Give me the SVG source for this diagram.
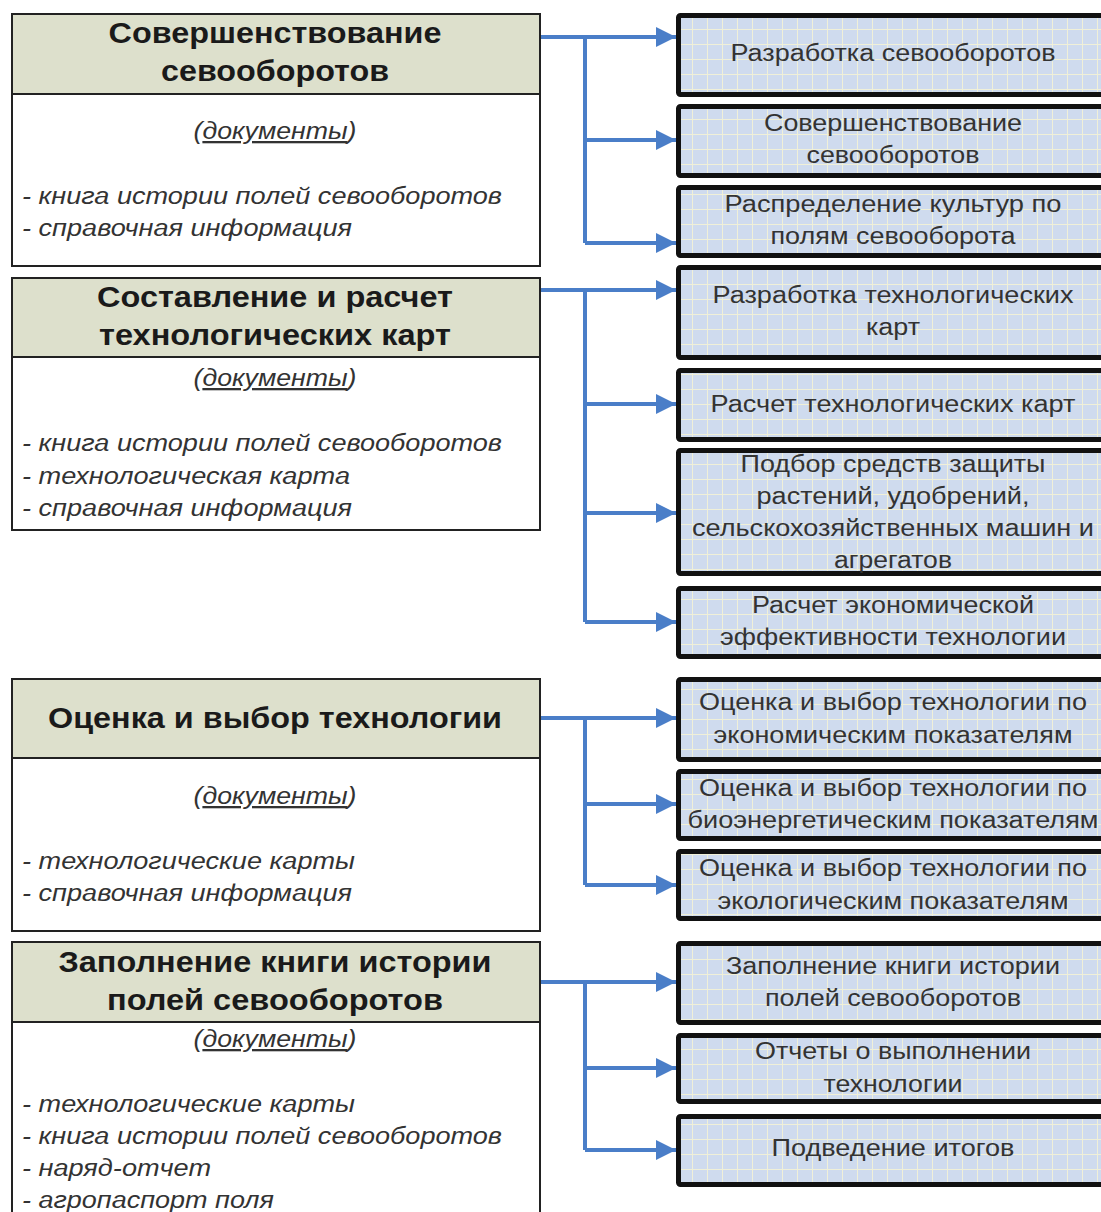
<svg xmlns="http://www.w3.org/2000/svg" width="1101" height="1212" viewBox="0 0 1101 1212">
<style>
.hd{fill:#dde0cc;stroke:#222;stroke-width:2}
.bd{fill:#fff;stroke:#222;stroke-width:2}
.ht{font-family:"Liberation Sans",Arial,sans-serif;font-weight:bold;font-size:29px;fill:#1a1a1a;text-anchor:middle}
.it{font-family:"Liberation Sans",Arial,sans-serif;font-style:italic;font-size:23px;fill:#333}
.dc{font-family:"Liberation Sans",Arial,sans-serif;font-style:italic;font-size:23px;fill:#333;text-anchor:middle}
.rb{fill:url(#grid);stroke:#111;stroke-width:5}
.rt{font-family:"Liberation Sans",Arial,sans-serif;font-size:23px;fill:#333;text-anchor:middle}
.cn{fill:none;stroke:#4a7ec8;stroke-width:4}
</style>
<defs>
<pattern id="grid" patternUnits="userSpaceOnUse" x="2" y="14" width="15" height="15">
<rect width="15" height="15" fill="#cfdbee"/>
<path d="M0 0H15M0 0V15" stroke="#f0f0d8" stroke-width="2" fill="none"/>
</pattern>
<marker id="ar" markerWidth="5" markerHeight="5" refX="5" refY="2.5" orient="auto" markerUnits="strokeWidth">
<path d="M0 0L5 2.5L0 5Z" fill="#4a7ec8"/>
</marker>
</defs>

<g id="connectors">
<path class="cn" d="M540 37H676" marker-end="url(#ar)"/>
<path class="cn" d="M585 37V243"/>
<path class="cn" d="M585 140H676" marker-end="url(#ar)"/>
<path class="cn" d="M585 243H676" marker-end="url(#ar)"/>
<path class="cn" d="M540 290H676" marker-end="url(#ar)"/>
<path class="cn" d="M585 290V622"/>
<path class="cn" d="M585 404H676" marker-end="url(#ar)"/>
<path class="cn" d="M585 513H676" marker-end="url(#ar)"/>
<path class="cn" d="M585 622H676" marker-end="url(#ar)"/>
<path class="cn" d="M540 718H676" marker-end="url(#ar)"/>
<path class="cn" d="M585 718V885"/>
<path class="cn" d="M585 804H676" marker-end="url(#ar)"/>
<path class="cn" d="M585 885H676" marker-end="url(#ar)"/>
<path class="cn" d="M540 982H676" marker-end="url(#ar)"/>
<path class="cn" d="M585 982V1150"/>
<path class="cn" d="M585 1068H676" marker-end="url(#ar)"/>
<path class="cn" d="M585 1150H676" marker-end="url(#ar)"/>
</g>

<g id="L1">
<rect class="bd" x="12" y="94" width="528" height="172"/>
<rect class="hd" x="12" y="14" width="528" height="80"/>
<text class="ht" x="275" y="43" textLength="333" lengthAdjust="spacingAndGlyphs">Совершенствование</text>
<text class="ht" x="275" y="81" textLength="228" lengthAdjust="spacingAndGlyphs">севооборотов</text>
<text class="dc" x="275" y="139" textLength="163" lengthAdjust="spacingAndGlyphs">(<tspan text-decoration="underline">документы</tspan>)</text>
<text class="it" x="22" y="204" textLength="480" lengthAdjust="spacingAndGlyphs">- книга истории полей севооборотов</text>
<text class="it" x="22" y="236" textLength="330" lengthAdjust="spacingAndGlyphs">- справочная информация</text>
</g>

<g id="L2">
<rect class="bd" x="12" y="357" width="528" height="173"/>
<rect class="hd" x="12" y="278" width="528" height="79"/>
<text class="ht" x="275" y="307" textLength="356" lengthAdjust="spacingAndGlyphs">Составление и расчет</text>
<text class="ht" x="275" y="345" textLength="352" lengthAdjust="spacingAndGlyphs">технологических карт</text>
<text class="dc" x="275" y="386" textLength="163" lengthAdjust="spacingAndGlyphs">(<tspan text-decoration="underline">документы</tspan>)</text>
<text class="it" x="22" y="451" textLength="480" lengthAdjust="spacingAndGlyphs">- книга истории полей севооборотов</text>
<text class="it" x="22" y="484" textLength="328" lengthAdjust="spacingAndGlyphs">- технологическая карта</text>
<text class="it" x="22" y="516" textLength="330" lengthAdjust="spacingAndGlyphs">- справочная информация</text>
</g>

<g id="L3">
<rect class="bd" x="12" y="758" width="528" height="173"/>
<rect class="hd" x="12" y="679" width="528" height="79"/>
<text class="ht" x="275" y="728" textLength="454" lengthAdjust="spacingAndGlyphs">Оценка и выбор технологии</text>
<text class="dc" x="275" y="804" textLength="163" lengthAdjust="spacingAndGlyphs">(<tspan text-decoration="underline">документы</tspan>)</text>
<text class="it" x="22" y="869" textLength="333" lengthAdjust="spacingAndGlyphs">- технологические карты</text>
<text class="it" x="22" y="901" textLength="330" lengthAdjust="spacingAndGlyphs">- справочная информация</text>
</g>

<g id="L4">
<rect class="bd" x="12" y="1022" width="528" height="200"/>
<rect class="hd" x="12" y="942" width="528" height="80"/>
<text class="ht" x="275" y="972" textLength="433" lengthAdjust="spacingAndGlyphs">Заполнение книги истории</text>
<text class="ht" x="275" y="1010" textLength="336" lengthAdjust="spacingAndGlyphs">полей севооборотов</text>
<text class="dc" x="275" y="1047" textLength="163" lengthAdjust="spacingAndGlyphs">(<tspan text-decoration="underline">документы</tspan>)</text>
<text class="it" x="22" y="1112" textLength="333" lengthAdjust="spacingAndGlyphs">- технологические карты</text>
<text class="it" x="22" y="1144" textLength="480" lengthAdjust="spacingAndGlyphs">- книга истории полей севооборотов</text>
<text class="it" x="22" y="1176" textLength="189" lengthAdjust="spacingAndGlyphs">- наряд-отчет</text>
<text class="it" x="22" y="1208" textLength="252" lengthAdjust="spacingAndGlyphs">- агропаспорт поля</text>
</g>

<g id="R1"><rect class="rb" x="678.5" y="15.5" width="430" height="79" rx="2"/>
<text class="rt" x="893" y="61" textLength="325" lengthAdjust="spacingAndGlyphs">Разработка севооборотов</text></g>
<g id="R2"><rect class="rb" x="678.5" y="106.5" width="430" height="69" rx="2"/>
<text class="rt" x="893" y="131" textLength="258" lengthAdjust="spacingAndGlyphs">Совершенствование</text>
<text class="rt" x="893" y="163" textLength="173" lengthAdjust="spacingAndGlyphs">севооборотов</text></g>
<g id="R3"><rect class="rb" x="678.5" y="187.5" width="430" height="68" rx="2"/>
<text class="rt" x="893" y="212" textLength="337" lengthAdjust="spacingAndGlyphs">Распределение культур по</text>
<text class="rt" x="893" y="244" textLength="245" lengthAdjust="spacingAndGlyphs">полям севооборота</text></g>
<g id="R4"><rect class="rb" x="678.5" y="267.5" width="430" height="90" rx="2"/>
<text class="rt" x="893" y="303" textLength="361" lengthAdjust="spacingAndGlyphs">Разработка технологических</text>
<text class="rt" x="893" y="335" textLength="54" lengthAdjust="spacingAndGlyphs">карт</text></g>
<g id="R5"><rect class="rb" x="678.5" y="370.5" width="430" height="69" rx="2"/>
<text class="rt" x="893" y="412" textLength="365" lengthAdjust="spacingAndGlyphs">Расчет технологических карт</text></g>
<g id="R6"><rect class="rb" x="678.5" y="450.5" width="430" height="123" rx="2"/>
<text class="rt" x="893" y="472" textLength="305" lengthAdjust="spacingAndGlyphs">Подбор средств защиты</text>
<text class="rt" x="893" y="504" textLength="273" lengthAdjust="spacingAndGlyphs">растений, удобрений,</text>
<text class="rt" x="893" y="536" textLength="402" lengthAdjust="spacingAndGlyphs">сельскохозяйственных машин и</text>
<text class="rt" x="893" y="568" textLength="118" lengthAdjust="spacingAndGlyphs">агрегатов</text></g>
<g id="R7"><rect class="rb" x="678.5" y="588.5" width="430" height="68" rx="2"/>
<text class="rt" x="893" y="613" textLength="282" lengthAdjust="spacingAndGlyphs">Расчет экономической</text>
<text class="rt" x="893" y="645" textLength="346" lengthAdjust="spacingAndGlyphs">эффективности технологии</text></g>
<g id="R8"><rect class="rb" x="678.5" y="679.5" width="430" height="80" rx="2"/>
<text class="rt" x="893" y="710" textLength="388" lengthAdjust="spacingAndGlyphs">Оценка и выбор технологии по</text>
<text class="rt" x="893" y="743" textLength="359" lengthAdjust="spacingAndGlyphs">экономическим показателям</text></g>
<g id="R9"><rect class="rb" x="678.5" y="771.5" width="430" height="67" rx="2"/>
<text class="rt" x="893" y="796" textLength="388" lengthAdjust="spacingAndGlyphs">Оценка и выбор технологии по</text>
<text class="rt" x="893" y="828" textLength="411" lengthAdjust="spacingAndGlyphs">биоэнергетическим показателям</text></g>
<g id="R10"><rect class="rb" x="678.5" y="851.5" width="430" height="67" rx="2"/>
<text class="rt" x="893" y="876" textLength="388" lengthAdjust="spacingAndGlyphs">Оценка и выбор технологии по</text>
<text class="rt" x="893" y="909" textLength="351" lengthAdjust="spacingAndGlyphs">экологическим показателям</text></g>
<g id="R11"><rect class="rb" x="678.5" y="943.5" width="430" height="79" rx="2"/>
<text class="rt" x="893" y="974" textLength="334" lengthAdjust="spacingAndGlyphs">Заполнение книги истории</text>
<text class="rt" x="893" y="1006" textLength="256" lengthAdjust="spacingAndGlyphs">полей севооборотов</text></g>
<g id="R12"><rect class="rb" x="678.5" y="1035.5" width="430" height="66" rx="2"/>
<text class="rt" x="893" y="1059" textLength="276" lengthAdjust="spacingAndGlyphs">Отчеты о выполнении</text>
<text class="rt" x="893" y="1092" textLength="139" lengthAdjust="spacingAndGlyphs">технологии</text></g>
<g id="R13"><rect class="rb" x="678.5" y="1116.5" width="430" height="68" rx="2"/>
<text class="rt" x="893" y="1156" textLength="243" lengthAdjust="spacingAndGlyphs">Подведение итогов</text></g>
</svg>
